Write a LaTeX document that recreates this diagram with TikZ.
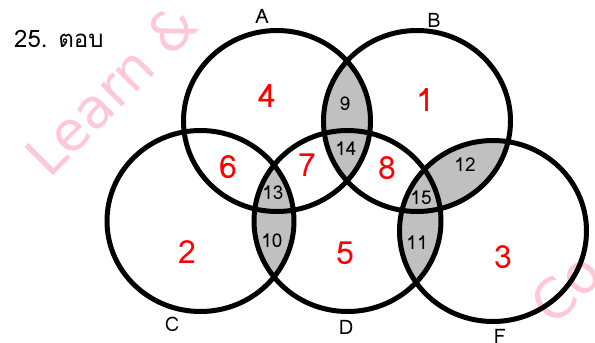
\documentclass[tikz,border=0pt]{standalone}
\usepackage{fontspec}
\setmainfont[Script=Thai]{Loma}
\newfontfamily\wmfont{DejaVu Sans}
\definecolor{shadegray}{RGB}{192,192,192}
\definecolor{wmpink}{RGB}{255,200,214}
\tikzset{
  ring/.style={draw=black, line width=5pt},
  rednum/.style={text=red, font=\fontsize{32}{32}\selectfont, inner sep=0pt},
  blknum/.style={text=black, font=\fontsize{19}{19}\selectfont, inner sep=0pt},
  setlbl/.style={text=black, font=\fontsize{20}{20}\selectfont, inner sep=0pt},
  wmark/.style={text=wmpink, font=\wmfont\fontsize{55}{55}\selectfont, rotate=45, inner sep=0pt},
}
\begin{document}
\begin{tikzpicture}[x=1pt,y=-1pt]
\useasboundingbox (0,0) rectangle (595,343);
\clip (0,0) rectangle (595,343);
\fill[white] (0,0) rectangle (595,343);
\def\rx{93.5pt}\def\ry{90.5pt}
\coordinate (cA) at (277,121);
\coordinate (cB) at (417,121);
\coordinate (cC) at (200.5,221);
\coordinate (cD) at (347.5,221);
\coordinate (cE) at (493,231);
% watermark
\node[wmark, anchor=south west] (wm) at (50,180) {Learn \&};
\node[wmark] (wm2) at (566,288) {Co};
% shaded pairwise intersections
\begin{scope}\clip (cA) ellipse [x radius=\rx, y radius=\ry];
  \fill[shadegray] (cB) ellipse [x radius=\rx, y radius=\ry];\end{scope}
\begin{scope}\clip (cC) ellipse [x radius=\rx, y radius=\ry];
  \fill[shadegray] (cD) ellipse [x radius=\rx, y radius=\ry];\end{scope}
\begin{scope}\clip (cD) ellipse [x radius=\rx, y radius=\ry];
  \fill[shadegray] (cE) ellipse [x radius=\rx, y radius=\ry];\end{scope}
\begin{scope}\clip (cB) ellipse [x radius=\rx, y radius=\ry];
  \fill[shadegray] (cE) ellipse [x radius=\rx, y radius=\ry];\end{scope}
% circles
\foreach \c in {cA,cB,cC,cD,cE}
  \draw[ring] (\c) ellipse [x radius=\rx, y radius=\ry];
% title
\node[anchor=west, inner sep=0pt, font=\fontsize{24}{24}\selectfont] (title) at (14,39) {25. ตอบ};
% set labels
\node[setlbl] (lA) at (262,16) {A};
\node[setlbl] (lB) at (434,20) {B};
\node[setlbl] (lC) at (172,324) {C};
\node[setlbl] (lD) at (346,327) {D};
\node[setlbl] (lE) at (500,336) {F};
% red numbers
\node[rednum] (n4) at (267,96) {4};
\node[rednum] (n1) at (425,100) {1};
\node[rednum] (n6) at (228,167) {6};
\node[rednum] (n7) at (307,165) {7};
\node[rednum] (n8) at (387,168) {8};
\node[rednum] (n2) at (187,252) {2};
\node[rednum] (n5) at (345,253) {5};
\node[rednum] (n3) at (503,257) {3};
% black numbers
\node[blknum] (n9) at (345,104) {9};
\node[blknum] (n14) at (346,149) {14};
\node[blknum] (n12) at (465,165) {12};
\node[blknum] (n13) at (273,193) {13};
\node[blknum] (n15) at (421,198) {15};
\node[blknum] (n10) at (272,241) {10};
\node[blknum] (n11) at (417,243) {11};
\end{tikzpicture}
\end{document}
